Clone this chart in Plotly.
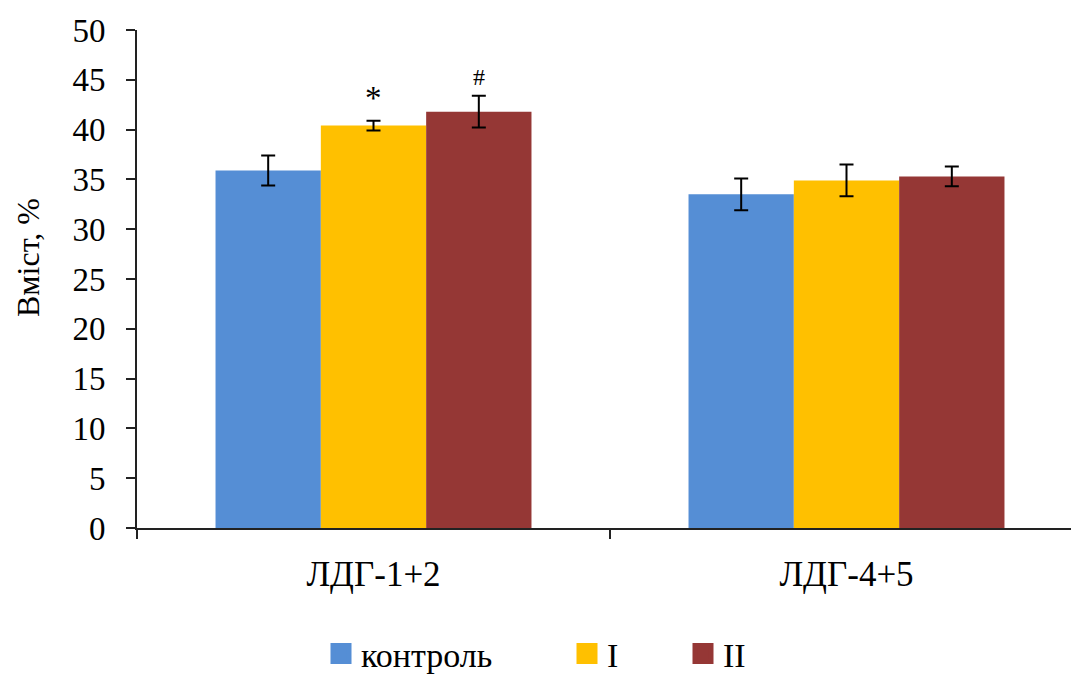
import plotly.graph_objects as go

categories = ["ЛДГ-1+2", "ЛДГ-4+5"]
series_names = ["контроль", "I", "II"]
control_vals = [35.9, 33.5]
control_err = [1.5, 1.6]
group1_vals = [40.4, 34.9]
group1_err = [0.5, 1.6]
group2_vals = [41.8, 35.3]
group2_err = [1.6, 1.0]
colors = ["#558ED5", "#FFC000", "#953735"]
y_ticks = [0, 5, 10, 15, 20, 25, 30, 35, 40, 45, 50]
y_title = "Вміст, %"
marks = [("*", 1, 0), ("#", 2, 0)]  # (symbol, series index, category index)

FONT = "Liberation Serif"
vals = [control_vals, group1_vals, group2_vals]
errs = [control_err, group1_err, group2_err]

fig = go.Figure()
for i in range(3):
    fig.add_trace(go.Bar(
        x=categories, y=vals[i], name=series_names[i],
        marker=dict(color=colors[i], line=dict(width=0)),
        error_y=dict(type="data", array=errs[i], color="black", thickness=2, width=7),
        showlegend=False,
    ))

legend_keys = ["legend", "legend2", "legend3"]
for i in range(3):
    fig.add_trace(go.Scatter(
        x=[None], y=[None], mode="markers", name=series_names[i],
        marker=dict(symbol="square", size=16, color=colors[i],
                    line=dict(color=colors[i], width=5)),
        legend=legend_keys[i], showlegend=True,
    ))

bargap = 0.332
bw = (1 - bargap) / 3
for sym, si, ci in marks:
    fig.add_annotation(
        x=ci + (si - 1) * bw, y=vals[si][ci] + errs[si][ci],
        text=sym, showarrow=False, yanchor="bottom",
        font=dict(family=FONT, size=33 if sym == "*" else 24, color="black"),
        yshift=3 if sym == "*" else 4,
    )

# y-axis title (placed like the reference, slightly above plot centre)
fig.add_annotation(
    xref="paper", yref="paper", x=(28 - 137) / 934, y=(528 - 258) / 498,
    text=y_title, textangle=-90, showarrow=False,
    xanchor="center", yanchor="middle",
    font=dict(family=FONT, size=32, color="black"),
)

W = 1071
leg_common = dict(orientation="h", yanchor="middle", xanchor="left",
                  xref="container", yref="container",
                  font=dict(family=FONT, size=34, color="black"),
                  bgcolor="rgba(0,0,0,0)", itemwidth=30,
                  tracegroupgap=0)
leg_y = (675 - 654) / 675
fig.update_layout(
    width=1071, height=675,
    margin=dict(l=137, r=0, t=30, b=147),
    plot_bgcolor="white", paper_bgcolor="white",
    bargap=bargap, bargroupgap=0, barmode="group",
    font=dict(family=FONT, size=32, color="black"),
    legend=dict(x=321 / W, y=leg_y, **leg_common),
    legend2=dict(x=567 / W, y=leg_y, **leg_common),
    legend3=dict(x=683 / W, y=leg_y, **leg_common),
    xaxis=dict(
        type="category", range=[-0.5, 1.5 - 12 / 473], automargin=False,
        showline=True, linecolor="#222", linewidth=2,
        ticks="outside", tickson="boundaries", ticklen=9, tickcolor="#222", tickwidth=2,
        tickfont=dict(family=FONT, size=35, color="black"),
        ticklabelstandoff=14,
        showgrid=False, zeroline=False,
    ),
    yaxis=dict(
        range=[0, 50], tickvals=y_ticks, automargin=False,
        showline=True, linecolor="#222", linewidth=2,
        ticks="outside", ticklen=9, tickcolor="#222", tickwidth=2,
        tickfont=dict(family=FONT, size=33, color="black"),
        ticklabelstandoff=14,
        showgrid=False, zeroline=False,
    ),
)

fig.write_html("out.html")
